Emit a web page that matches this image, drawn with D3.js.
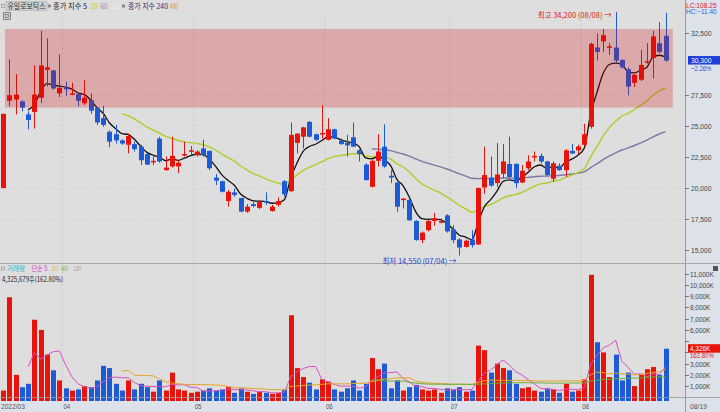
<!DOCTYPE html>
<html><head><meta charset="utf-8">
<script src="https://cdn.jsdelivr.net/npm/d3@7"></script>
<style>body{margin:0;background:#dfdfdf;}svg{display:block;}</style>
</head><body><svg id="c" width="720" height="412"></svg>
<script>
const dates = ["03/18","03/21","03/22","03/23","03/24","03/25","03/28","03/29","03/30","03/31",
"04/01","04/04","04/05","04/06","04/07","04/08","04/11","04/12","04/13","04/14","04/15","04/18","04/19","04/20","04/21","04/22","04/25","04/26","04/27","04/28","04/29",
"05/02","05/03","05/04","05/06","05/09","05/10","05/11","05/12","05/13","05/16","05/17","05/18","05/19","05/20","05/23","05/24","05/25","05/26","05/27","05/30","05/31",
"06/02","06/03","06/07","06/08","06/09","06/10","06/13","06/14","06/15","06/16","06/17","06/20","06/21","06/22","06/23","06/24","06/27","06/28","06/29","06/30",
"07/01","07/04","07/05","07/06","07/07","07/08","07/11","07/12","07/13","07/14","07/15","07/18","07/19","07/20","07/21","07/22","07/25","07/26","07/27","07/28","07/29",
"08/01","08/02","08/03","08/04","08/05","08/08","08/09","08/10","08/11","08/12","08/16","08/17","08/18","08/19"];
const open  = [20000,27050,27150,27000,25950,26150,27300,29550,29500,27650, 28100,27550,27600,26850,27100,26500,25650,24550,24350,23850,23500,23550,23350,22750,22100,24000,21450,21750,21750,22650,23000, 22650,23200,23000,20850,20550,18950,19650,19200,18100,18700,18400,18950,18150,18650,20550,19750,23650,24150,25350,24350,24400, 23900,24750,23850,23650,24100,23050,21900,20100,22200,23350,21000,20450,19100,19050,17350,15800,16600,17350,17200,17800, 16650,15850,15250,15850,15450,20050,20850,20400,21150,21950,21950,20450,21600,22550,22600,22150,20750,21800,21450,23000,23050, 23500,24950,31350,31850,31350,31350,30350,29600,28500,28750,30150,30500,31700,32300];
const high  = [26000,30400,29200,27100,26200,29900,32700,32100,29550,30800, 28600,28500,27700,28700,27650,26550,26650,24650,25100,23950,24400,23750,23500,22850,22550,24150,22550,24150,22250,23750,23400, 23050,23900,23050,21150,20600,19850,19950,19200,18700,18900,19000,19650,18650,19250,20650,25300,24450,24950,25400,24400,26700, 25650,24800,24000,24300,25300,23150,22000,22250,24350,25150,21450,20500,19200,19100,17400,16500,17400,18000,17550,17900, 17000,15950,15850,16600,20050,23350,22550,23650,23550,24150,22000,21850,22650,22950,22800,22200,22150,22000,23150,23550,23500, 25200,31750,32500,32850,31700,34200,30400,29750,29200,31150,31700,32700,33400,34150];
const low   = [20000,26600,25950,26200,24750,24800,26850,28200,27950,27350, 27450,27500,26600,26700,26000,25100,24950,23300,23600,23500,22800,22950,21850,21850,21850,22050,21400,21650,21200,22550,22650, 22550,22550,21450,20250,19650,18500,19300,18050,18000,18450,18300,18650,18100,18500,19300,19700,22800,23200,24100,23800,24000, 23850,23950,23500,22550,23300,22150,20600,20050,21750,21650,20400,18100,18350,17350,15750,15550,16500,16950,17150,16400, 15550,14550,15200,15200,15400,19550,20100,20100,20800,20800,20000,20400,21450,22150,22000,21000,20500,21400,20900,22750,22750, 23400,24800,30300,31000,30750,30100,29650,27500,28150,28650,30050,28850,30900,30200];
const close = [26000,27500,27550,26500,25500,27550,29900,29750,28050,28100, 28000,27650,27050,27300,26250,25300,25100,23750,23850,23600,24200,23150,22250,21900,22200,22150,21650,22600,22050,22750,23050, 22950,22650,21600,20600,19700,19700,19450,18100,18500,18550,18900,18850,18500,18950,19500,24300,24400,24900,24150,23900,24450, 24750,24000,23550,23450,23350,22750,20650,22200,22950,21750,20850,18500,19150,17400,15800,16400,17350,17550,17350,16500, 15800,15200,15750,15400,20000,21050,20200,21100,22150,20900,20400,21400,22150,22600,22150,21050,22000,21450,23050,22800,23350, 24350,31650,31000,32350,31450,30300,29750,28200,29150,29950,30250,32250,31000,30300];
const volume = [600,8900,2000,900,1200,6900,6000,3800,2400,1500, 800,600,700,1000,900,1500,2800,2600,1200,600,1500,700,1200,900,500,1500,600,2200,700,600,400, 500,600,800,600,700,900,400,800,500,300,500,400,300,400,700,7300,2600,1800,1300,700,1600, 1400,700,500,800,1500,600,1200,3500,2500,3000,800,1500,600,900,1100,700,600,700,400,800, 700,900,500,600,4600,4200,2200,3000,2600,2400,1200,800,900,600,500,800,700,400,1200,500,600, 1600,10900,4900,4000,1800,3800,1500,2200,1000,2000,2500,2700,2000,4326];
const priceTicks = [15000,17500,20000,22500,25000,27500,32500];
const volTicks = [1000,2000,3000,4000,5000,6000,7000,8000,9000,10000,11000];
const monthLabels = [["03/18","2022/03"],["04/01","04"],["05/02","05"],["06/02","06"],["07/01","07"],["08/01","08"]];
const boxRange = [26500, 32850];
const maPeriods = [5,20,60];
const volMaPeriods = [5,20,60];

const svg = d3.select("#c");
const KR = "'Noto Sans CJK KR','Noto Sans',sans-serif";
const NUM = "'Liberation Sans Narrow','Liberation Sans',sans-serif";
const RED = "#e8140c", BLUE = "#1c5ad6";
const axisX = 685;

const x = d3.scaleBand().domain(dates).range([0, 668.75]).paddingInner(0.3).paddingOuter(0.15);
const cx = d => x(d) + x.bandwidth()/2;
const y = d3.scaleLinear().domain([15000, 32500]).range([250, 33.3]);
const yv = d3.scaleLinear().domain([0, 11000]).range([397.3, 273.7]);

function numText(g, tx, ty, str, fill, size){
  return g.append("text").attr("x",tx).attr("y",ty).attr("font-family",NUM).attr("font-size",size||7.5)
    .attr("fill",fill).attr("textLength", str.length*3.4).attr("lengthAdjust","spacingAndGlyphs").text(str);
}
function krText(g, tx, ty, str, fill, w, size){
  const t = g.append("text").attr("x",tx).attr("y",ty).attr("font-family",KR).attr("font-size",size||7.5).attr("fill",fill).text(str);
  if (w) t.attr("textLength",w).attr("lengthAdjust","spacingAndGlyphs");
  return t;
}

// backgrounds
svg.append("rect").attr("x",0).attr("y",0).attr("width",720).attr("height",412).attr("fill","#dedede");
svg.append("rect").attr("x",axisX).attr("y",0).attr("width",35).attr("height",412).attr("fill","#dde2ea");
svg.append("rect").attr("x",0).attr("y",397).attr("width",720).attr("height",15).attr("fill","#dde2ea");

// grids
const gridMonths = monthLabels.slice(1).map(m => x(m[0]) - 1);
svg.append("g").selectAll("line").data(gridMonths).join("line")
  .attr("x1",d=>d).attr("x2",d=>d).attr("y1",12).attr("y2",397)
  .attr("stroke","#c9c9c9").attr("stroke-width",1).attr("stroke-dasharray","2,2");
svg.append("g").selectAll("line").data(priceTicks).join("line")
  .attr("x1",0).attr("x2",axisX).attr("y1",d=>Math.round(y(d))+0.5).attr("y2",d=>Math.round(y(d))+0.5)
  .attr("stroke","#d4d4d4").attr("stroke-dasharray","1,2");

svg.append("line").attr("x1",axisX+0.5).attr("x2",axisX+0.5).attr("y1",0).attr("y2",412).attr("stroke","#9a9a9a");
svg.append("line").attr("x1",0).attr("x2",720).attr("y1",263.5).attr("y2",263.5).attr("stroke","#a8a8a8");
svg.append("line").attr("x1",0).attr("x2",720).attr("y1",397.5).attr("y2",397.5).attr("stroke","#a8a8a8");

function ema(arr, n){ const k=2/(n+1); let e=arr[0]; return arr.map((v,i)=>{ if(i>0) e = v*k + e*(1-k); return i>=n-1? e : null; }); }
function sma(arr, n){ return arr.map((v,i)=> i>=n-1 ? d3.mean(arr.slice(i-n+1,i+1)) : null); }

const maColors = {5:"#111111",20:"#b2cc2e",60:"#7c78a6"};
const line = d3.line().defined(d=>d[1]!=null).x(d=>cx(d[0])).y(d=>y(d[1])).curve(d3.curveMonotoneX);
maPeriods.slice().reverse().forEach(n=>{
  const m = ema(close,n);
  svg.append("path").attr("d", line(dates.map((d,i)=>[d,m[i]]))).attr("fill","none")
    .attr("stroke",maColors[n]).attr("stroke-width", n==5?1.3:1.4);
});

// candles
const idx = d3.range(dates.length);
const up = i => close[i] >= open[i];
const cg = svg.append("g");
cg.selectAll("line").data(idx).join("line")
  .attr("x1",i=>Math.round(cx(dates[i]))+0.5).attr("x2",i=>Math.round(cx(dates[i]))+0.5)
  .attr("y1",i=>y(high[i])).attr("y2",i=>y(low[i]))
  .attr("stroke",i=>up(i)?RED:BLUE).attr("stroke-width",1);
cg.selectAll("rect").data(idx).join("rect")
  .attr("x",i=>Math.round(cx(dates[i]))-2).attr("width",5)
  .attr("y",i=>y(Math.max(open[i],close[i])))
  .attr("height",i=>Math.max(1.5, Math.abs(y(open[i])-y(close[i]))))
  .attr("fill",i=>up(i)?RED:BLUE);

// pink box overlay
svg.append("rect").attr("x",x(dates[0])+4).attr("width",x(dates[dates.length-1])+x.bandwidth()+5-(x(dates[0])+4))
  .attr("y",y(boxRange[1])).attr("height",y(boxRange[0])-y(boxRange[1]))
  .attr("fill","#d20000").attr("fill-opacity",0.24);

// price axis
const last = close.length-1, chg = (close[last]/close[last-1]-1)*100;
const pa = svg.append("g");
priceTicks.forEach(t=>{
  pa.append("line").attr("x1",axisX).attr("x2",axisX+4).attr("y1",Math.round(y(t))+0.5).attr("y2",Math.round(y(t))+0.5).attr("stroke","#777");
  numText(pa, axisX+6, y(t)+3, d3.format(",")(t), "#444");
});
svg.append("rect").attr("x",axisX+3).attr("y",y(close[last])-4.5).attr("width",32).attr("height",8.5).attr("fill","#1d3fd8");
numText(svg, axisX+6, y(close[last])+2.8, d3.format(",")(close[last]), "#fff");
numText(svg, axisX+6, y(close[last])+10.5, d3.format(".2f")(chg)+"%", "#2a4fd8");
const hi = d3.max(high), lo = d3.min(low);
numText(svg, axisX+1, 7.5, "LC:"+d3.format(".2f")((close[last]/lo-1)*100), "#e02020", 7);
numText(svg, axisX+1, 14, "HC:"+d3.format(".2f")((close[last]/hi-1)*100), "#3060e0", 7);

// annotations
const hiI = high.indexOf(hi), loI = low.indexOf(lo);
svg.append("text").attr("x",cx(dates[hiI])-4).attr("y",y(hi)+6).attr("text-anchor","end")
  .attr("font-family",KR).attr("font-size",7.5).attr("fill","#e02020").text(`최고 ${d3.format(",")(hi)} (${dates[hiI]}) →`);
svg.append("text").attr("x",cx(dates[loI])-3).attr("y",y(lo)+8).attr("text-anchor","end")
  .attr("font-family",KR).attr("font-size",7.5).attr("fill","#2a3fd0").text(`최저 ${d3.format(",")(lo)} (${dates[loI]}) →`);

// volume bars
const vg = svg.append("g");
vg.selectAll("rect").data(idx).join("rect")
  .attr("x",i=>Math.round(cx(dates[i]))-2).attr("width",5)
  .attr("y",i=>yv(volume[i])).attr("height",i=>yv(0)-yv(volume[i]))
  .attr("fill",i=>up(i)?RED:BLUE);
const vColors = {5:"#d94fc0",20:"#e2a526",60:"#6fae3a"};
const vline = d3.line().defined(d=>d[1]!=null).x(d=>cx(d[0])).y(d=>yv(d[1]));
volMaPeriods.forEach(n=>{
  const m = sma(volume,n);
  svg.append("path").attr("d", vline(dates.map((d,i)=>[d,m[i]]))).attr("fill","none").attr("stroke",vColors[n]).attr("stroke-width",1);
});

// volume axis
const lv = volume[last];
const va = svg.append("g");
volTicks.forEach(t=>{
  va.append("line").attr("x1",axisX).attr("x2",axisX+4).attr("y1",Math.round(yv(t))+0.5).attr("y2",Math.round(yv(t))+0.5).attr("stroke","#777");
  if (Math.abs(yv(t)-yv(lv)) > 9) numText(va, axisX+5, yv(t)+3, d3.format(",")(t)+"K", "#444");
});
svg.append("rect").attr("x",axisX+3).attr("y",yv(lv)-4.5).attr("width",32).attr("height",8.5).attr("fill","#e8140c");
numText(svg, axisX+5, yv(lv)+2.8, d3.format(",")(Math.round(lv))+"K", "#fff");
numText(svg, axisX+5, yv(lv)+9.3, "162.80%", "#e02020", 6.8);
svg.append("rect").attr("x",713).attr("y",266).attr("width",5).attr("height",5).attr("fill","#555");

// bottom up/down strip
svg.append("g").selectAll("rect").data(idx).join("rect")
  .attr("x",i=>Math.round(cx(dates[i]))-2).attr("width",5).attr("y",398).attr("height",3)
  .attr("fill",i=>up(i)?RED:BLUE);

// x labels
const xl = svg.append("g");
monthLabels.forEach((d,i)=> numText(xl, i==0? 1 : x(d[0]), 409, d[1], "#555"));
numText(svg, axisX+5, 409, dates[last], "#555");

// top legend
const lg = svg.append("g");
lg.append("rect").attr("x",1.5).attr("y",4.5).attr("width",3).attr("height",3).attr("fill","none").attr("stroke","#888").attr("stroke-width",0.6);
lg.append("rect").attr("x",6).attr("y",1.5).attr("width",41).attr("height",9).attr("fill","#d0d0d0").attr("stroke","#b0b0b0").attr("stroke-width",0.6);
krText(lg, 7.5, 9, "유일로보틱스", "#333", 38);
lg.append("rect").attr("x",48).attr("y",4.5).attr("width",3).attr("height",3).attr("fill","#888");
krText(lg, 53, 9, "종가 지수 5", "#222", 34);
krText(lg, 90.5, 9, "20", "#b8d030", 7);
krText(lg, 100.5, 9, "60", "#8a88b0", 7);
krText(lg, 111, 9, "120", "#efefef", 8);
lg.append("rect").attr("x",122).attr("y",4.5).attr("width",3).attr("height",3).attr("fill","#888");
krText(lg, 128, 9, "종가 지수 240", "#33337a", 40);
krText(lg, 170, 9, "480", "#e8892e", 8);
lg.append("rect").attr("x",3.5).attr("y",12.5).attr("width",7).attr("height",7).attr("fill","#ccc").attr("stroke","#666").attr("stroke-width",0.7);
lg.append("rect").attr("x",5.5).attr("y",14.5).attr("width",3).attr("height",3).attr("fill","none").attr("stroke","#666").attr("stroke-width",0.6);

// volume legend
const vl = svg.append("g");
vl.append("rect").attr("x",1.5).attr("y",267).attr("width",3).attr("height",3).attr("fill","none").attr("stroke","#888").attr("stroke-width",0.6);
krText(vl, 7, 271, "거래량", "#2bb3c8", 18, 7);
krText(vl, 31.5, 271, "단순 5", "#d63fc0", 16, 7);
krText(vl, 51.5, 271, "20", "#e6b52a", 6.5, 7);
krText(vl, 61.5, 271, "60", "#6fae3a", 6.5, 7);
krText(vl, 73, 271, "120", "#999", 8, 7);
krText(vl, 2, 281.5, "4,325,679주(162.80%)", "#222", 61, 7);
</script>
</body></html>
